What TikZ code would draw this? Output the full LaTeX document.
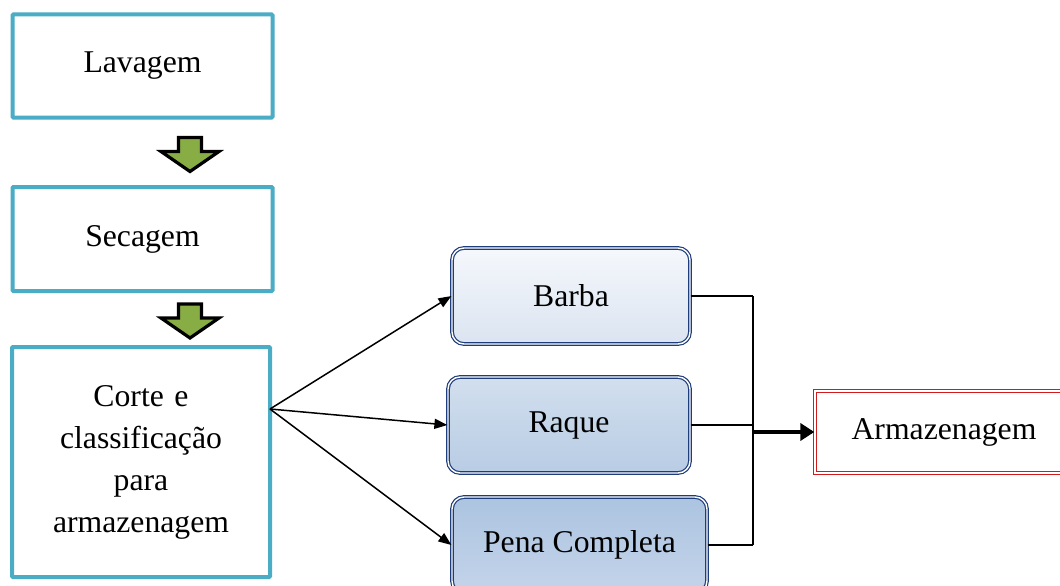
\documentclass[tikz,border=0pt]{standalone}
\usepackage{fontspec}
\setmainfont{Liberation Serif}
\usetikzlibrary{arrows.meta,calc}
\definecolor{cyanb}{HTML}{4BACC6}
\definecolor{navyb}{HTML}{1F3D7A}
\definecolor{redb}{HTML}{D01C1C}
\definecolor{greenb}{HTML}{88AD45}
\tikzset{
  stepbox/.style={draw=cyanb, line width=4pt, fill=white, rounded corners=1pt, align=center, text width=250pt, inner sep=0pt},
  bluebox/.style={draw=navyb, double=white, double distance=1.4pt, line width=1.2pt, rounded corners=12pt, inner sep=0pt, minimum height=96pt},
  redbox/.style={draw=redb, double=white, double distance=1.6pt, line width=1.3pt, inner sep=0pt, minimum width=258pt, minimum height=82pt},
  conn/.style={line width=1.5pt, -{Triangle[length=13pt,width=10pt]}},
  plain/.style={line width=1.5pt},
  thickconn/.style={line width=4pt, -{Triangle[length=14pt,width=17pt]}},
  blockarrow/.pic={\draw[line width=3.2pt, fill=greenb, line join=miter] (-11.5,-17) -- (11.5,-17) -- (11.5,-3) -- (29,-3) -- (0,17) -- (-29,-3) -- (-11.5,-3) -- cycle;}
}
\begin{document}
\begin{tikzpicture}[x=1pt, y=-1pt, font=\fontsize{31.7}{42}\selectfont]
\useasboundingbox (0,0) rectangle (1060,586);
\clip (0,0) rectangle (1060,586);
\fill[white] (0,0) rectangle (1060,586);

\node[stepbox, minimum width=260pt, minimum height=103pt] (lav) at (142.5,66) {Lavagem};
\node[stepbox, minimum width=260pt, minimum height=104pt] (sec) at (142.5,239) {Secagem};
\node[stepbox, minimum width=258pt, minimum height=230pt] (cor) at (141,462) {Corte e\\classificação\\para\\armazenagem};

\coordinate (a1) at (190,154.5);
\coordinate (a2) at (190,321);
\pic at (a1) {blockarrow};
\pic at (a2) {blockarrow};

\node[bluebox, minimum width=238pt, top color={rgb,255:red,245;green,248;blue,252}, bottom color={rgb,255:red,219;green,228;blue,241}] (bar) at (571,296) {Barba};
\node[bluebox, minimum width=242pt, top color={rgb,255:red,210;green,223;blue,238}, bottom color={rgb,255:red,184;green,204;blue,228}] (raq) at (569,425) {Raque};
\node[bluebox, minimum width=255pt, top color={rgb,255:red,172;green,196;blue,224}, bottom color={rgb,255:red,196;green,212;blue,234}] (pen) at (579.5,545) {Pena Completa};

\node[redbox, fill=white] (arm) at (944,432) {Armazenagem};

\coordinate (src) at (270,409);
\draw[conn] (src) -- (bar.west);
\draw[conn] (src) -- (raq.west);
\draw[conn] (src) -- (pen.west);

\coordinate (jx) at (753,0);
\draw[plain] (bar.east) -- (bar.east -| jx);
\draw[plain] (raq.east) -- (raq.east -| jx);
\draw[plain] (pen.east) -- (pen.east -| jx);
\draw[plain] (bar.east -| jx) -- (pen.east -| jx);
\draw[thickconn] (arm.west -| jx) -- (arm.west);
\end{tikzpicture}
\end{document}
